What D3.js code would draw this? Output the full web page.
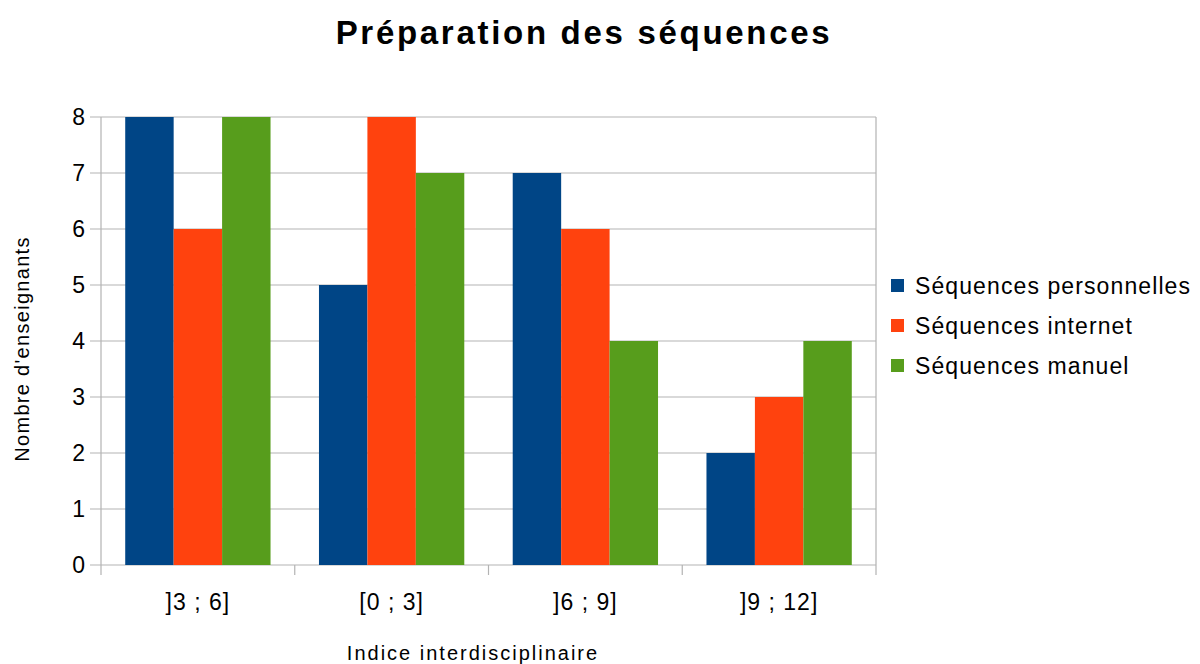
<!DOCTYPE html>
<meta charset="utf-8">
<style>
  body { margin: 0; background: #fff; }
  text { font-family: "Liberation Sans", Arial, sans-serif; fill: #000; }
</style>
<svg width="1200" height="664"></svg>
<script src="https://d3js.org/d3.v7.min.js"></script>
<script>
  var categories = ["]3 ; 6]", "[0 ; 3]", "]6 ; 9]", "]9 ; 12]"];
  var seriesNames = ["Séquences personnelles", "Séquences internet", "Séquences manuel"];
  var personnelles = [8, 5, 7, 2];
  var internet = [6, 8, 6, 3];
  var manuel = [8, 7, 4, 4];
  var yTicks = [0, 1, 2, 3, 4, 5, 6, 7, 8];
  var colors = ["#004586", "#ff420e", "#579d1c"];

  var series = [personnelles, internet, manuel];

  var svg = d3.select("svg");
  var plotLeft = 101, plotRight = 876, plotTop = 117, plotBottom = 565;

  var x = d3.scaleBand().domain(categories).range([plotLeft, plotRight]);
  var inner = d3.scaleBand().domain(d3.range(series.length))
    .range([0, x.bandwidth()]).paddingOuter(0.5).paddingInner(0);
  var y = d3.scaleLinear().domain([0, 8]).range([plotBottom, plotTop]);

  // grid
  svg.append("g").selectAll("line")
    .data(yTicks)
    .enter().append("line")
    .attr("x1", plotLeft - 11).attr("x2", plotRight)
    .attr("y1", function(d) { return y(d); })
    .attr("y2", function(d) { return y(d); })
    .attr("stroke", "#b3b3b3").attr("stroke-width", 1.2);

  // axis frame
  svg.append("line").attr("x1", plotLeft).attr("x2", plotLeft).attr("y1", plotTop).attr("y2", plotBottom + 10)
    .attr("stroke", "#b3b3b3").attr("stroke-width", 1.2);
  svg.append("line").attr("x1", plotRight).attr("x2", plotRight).attr("y1", plotTop).attr("y2", plotBottom + 10)
    .attr("stroke", "#b3b3b3").attr("stroke-width", 1.2);
  svg.append("g").selectAll("line")
    .data(categories.slice(1))
    .enter().append("line")
    .attr("x1", function(d) { return x(d); })
    .attr("x2", function(d) { return x(d); })
    .attr("y1", plotBottom).attr("y2", plotBottom + 10)
    .attr("stroke", "#b3b3b3").attr("stroke-width", 1.2);

  // bars
  series.forEach(function(vals, i) {
    svg.append("g").selectAll("rect")
      .data(vals)
      .enter().append("rect")
      .attr("x", function(d, j) { return x(categories[j]) + inner(i); })
      .attr("width", inner.bandwidth())
      .attr("y", function(d) { return y(d); })
      .attr("height", function(d) { return y(0) - y(d); })
      .attr("fill", colors[i]);
  });

  // y tick labels
  svg.append("g").selectAll("text")
    .data(yTicks)
    .enter().append("text")
    .attr("x", 85)
    .attr("y", function(d) { return y(d) + 8; })
    .attr("text-anchor", "end")
    .style("font-size", "23px")
    .text(function(d) { return d; });

  // x tick labels
  svg.append("g").selectAll("text")
    .data(categories)
    .enter().append("text")
    .attr("x", function(d) { return x(d) + x.bandwidth() / 2; })
    .attr("y", 610)
    .attr("text-anchor", "middle")
    .style("font-size", "23px")
    .style("letter-spacing", "1px")
    .text(function(d) { return d; });

  // titles
  svg.append("text").attr("x", 584).attr("y", 44).attr("text-anchor", "middle")
    .style("font-size", "33px").style("font-weight", "bold").style("letter-spacing", "2.7px")
    .text("Préparation des séquences");
  svg.append("text").attr("x", 473).attr("y", 660).attr("text-anchor", "middle")
    .style("font-size", "20px").style("letter-spacing", "2px")
    .text("Indice interdisciplinaire");
  svg.append("text").attr("transform", "translate(29,349) rotate(-90)").attr("text-anchor", "middle")
    .style("font-size", "20px").style("letter-spacing", "1.3px")
    .text("Nombre d'enseignants");

  // legend
  var legend = svg.append("g").selectAll("g")
    .data(seriesNames)
    .enter().append("g")
    .attr("transform", function(d, i) { return "translate(891," + (279 + i * 40) + ")"; });
  legend.append("rect").attr("width", 13).attr("height", 13)
    .attr("fill", function(d, i) { return colors[i]; });
  legend.append("text").attr("x", 24).attr("y", 15)
    .style("font-size", "23px").style("letter-spacing", "1.1px")
    .text(function(d) { return d; });
</script>
